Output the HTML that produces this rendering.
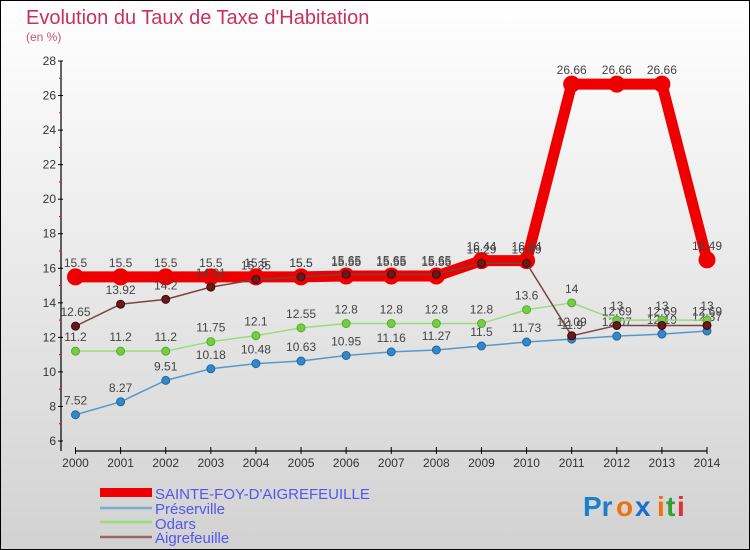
<!DOCTYPE html>
<html><head><meta charset="utf-8"><style>
body{margin:0;padding:0}
svg{display:block;font-family:"Liberation Sans","DejaVu Sans",sans-serif}
</style></head><body>
<svg width="750" height="550" viewBox="0 0 750 550">
<defs><linearGradient id="bg" x1="0" y1="0" x2="0" y2="1"><stop offset="0" stop-color="#ffffff"/><stop offset="1" stop-color="#d2d2d2"/></linearGradient></defs>
<rect x="0.5" y="0.5" width="749" height="549" fill="url(#bg)" stroke="#000"/>
<text x="26" y="24" font-size="20" fill="#c8305e">Evolution du Taux de Taxe d'Habitation</text>
<text x="26" y="41" font-size="12" fill="#c8507e">(en %)</text>
<g id="axes"></g>
<g id="series"></g>
<g>
<rect x="100" y="488" width="52" height="9" fill="#e00"/>
<text x="155" y="499" font-size="15" fill="#5555ee">SAINTE-FOY-D'AIGREFEUILLE</text>
<line x1="100" y1="508" x2="152" y2="508" stroke="#7aaed0" stroke-width="2.5"/>
<text x="155" y="514" font-size="15" fill="#5555ee">Préserville</text>
<line x1="100" y1="522" x2="152" y2="522" stroke="#99dd77" stroke-width="2.5"/>
<text x="155" y="529" font-size="15" fill="#5555ee">Odars</text>
<line x1="100" y1="537" x2="152" y2="537" stroke="#996666" stroke-width="2.5"/>
<text x="155" y="543" font-size="15" fill="#5555ee">Aigrefeuille</text>
</g>
<g font-size="28" font-weight="bold">
<text x="583" y="516" fill="#1a7fcc">Pr</text><text x="616" y="516" fill="#f07010">o</text><text x="635" y="516" fill="#1a6fcc">x</text><text x="657" y="516" fill="#f07010">i</text><text x="666" y="516" fill="#30a030">t</text><text x="677" y="516" fill="#e03030">i</text>
</g>
</svg>
<script>
const years=["2000","2001","2002","2003","2004","2005","2006","2007","2008","2009","2010","2011","2012","2013","2014"];
const yTicks=[6,8,10,12,14,16,18,20,22,24,26,28];
const sainteFoy=[15.5,15.5,15.5,15.5,15.5,15.5,15.55,15.55,15.55,16.44,16.44,26.66,26.66,26.66,16.49];
const preserville=[7.52,8.27,9.51,10.18,10.48,10.63,10.95,11.16,11.27,11.5,11.73,11.9,12.07,12.19,12.37];
const odars=[11.2,11.2,11.2,11.75,12.1,12.55,12.8,12.8,12.8,12.8,13.6,14,13,13,13];
const aigrefeuille=[12.65,13.92,14.2,14.91,15.35,15.5,15.65,15.65,15.65,16.29,16.29,12.09,12.69,12.69,12.69];
const NS="http://www.w3.org/2000/svg";
const xS=i=>75.5+i*(707-75.5)/14;
const yS=v=>441-(v-6)*(441-61)/22;
function mk(tag,attrs,parent){const e=document.createElementNS(NS,tag);for(const k in attrs)e.setAttribute(k,attrs[k]);parent.appendChild(e);return e;}
const ax=document.getElementById('axes');
let l=mk('line',{x1:61,y1:61,x2:61,y2:451,stroke:'#000','stroke-width':1.2},ax);


l=mk('line',{x1:75,y1:451,x2:707,y2:451,stroke:'#000','stroke-width':1.2},ax);


yTicks.forEach((t,i)=>{
 const y=yS(t);
 mk('line',{x1:58,y1:y,x2:63,y2:y,stroke:'#000'},ax);
 if(i<yTicks.length-1){mk('line',{x1:59,y1:y-17.27,x2:61,y2:y-17.27,stroke:'#e00'},ax);}
 const tx=mk('text',{x:56,y:y+4,'font-size':12,fill:'#333','text-anchor':'end'},ax);
 tx.textContent=t;
 
 
});
years.forEach((yr,i)=>{
 const x=xS(i);
 mk('line',{x1:x,y1:447,x2:x,y2:454,stroke:'#000'},ax);
 const tx=mk('text',{x:x,y:467,'font-size':12,fill:'#333','text-anchor':'middle'},ax);
 tx.textContent=yr;
 
 
});
const sg=document.getElementById('series');
function draw(vals,name,color,w,r,dotFill,dotStroke){
 const g=mk('g',{},sg);
 
 
 const p=mk('polyline',{points:vals.map((v,i)=>xS(i)+','+yS(v)).join(' '),fill:'none',stroke:color,'stroke-width':w,'stroke-linejoin':'round'},g);
 
 
 vals.forEach((v,i)=>{
  const c=mk('circle',{cx:xS(i),cy:yS(v),r:r,fill:dotFill,stroke:dotStroke,'stroke-width':1},g);
  
  
  const t=mk('text',{x:xS(i),y:yS(v)-10,'font-size':12,fill:'#444','text-anchor':'middle'},g);
  t.textContent=v;
  
  
 });
}
draw(sainteFoy,'sainte-foy','#ee0000',11,8,'#ee0000','#ee0000');
draw(preserville,'preserville','#5599cc',1.5,4,'#3388cc','#22669a');
draw(odars,'odars','#99dd77',1.5,4,'#77cc44','#55aa33');
draw(aigrefeuille,'aigrefeuille','#774444',1.5,4,'#661a1a','#440000');
</script>
</body></html>
